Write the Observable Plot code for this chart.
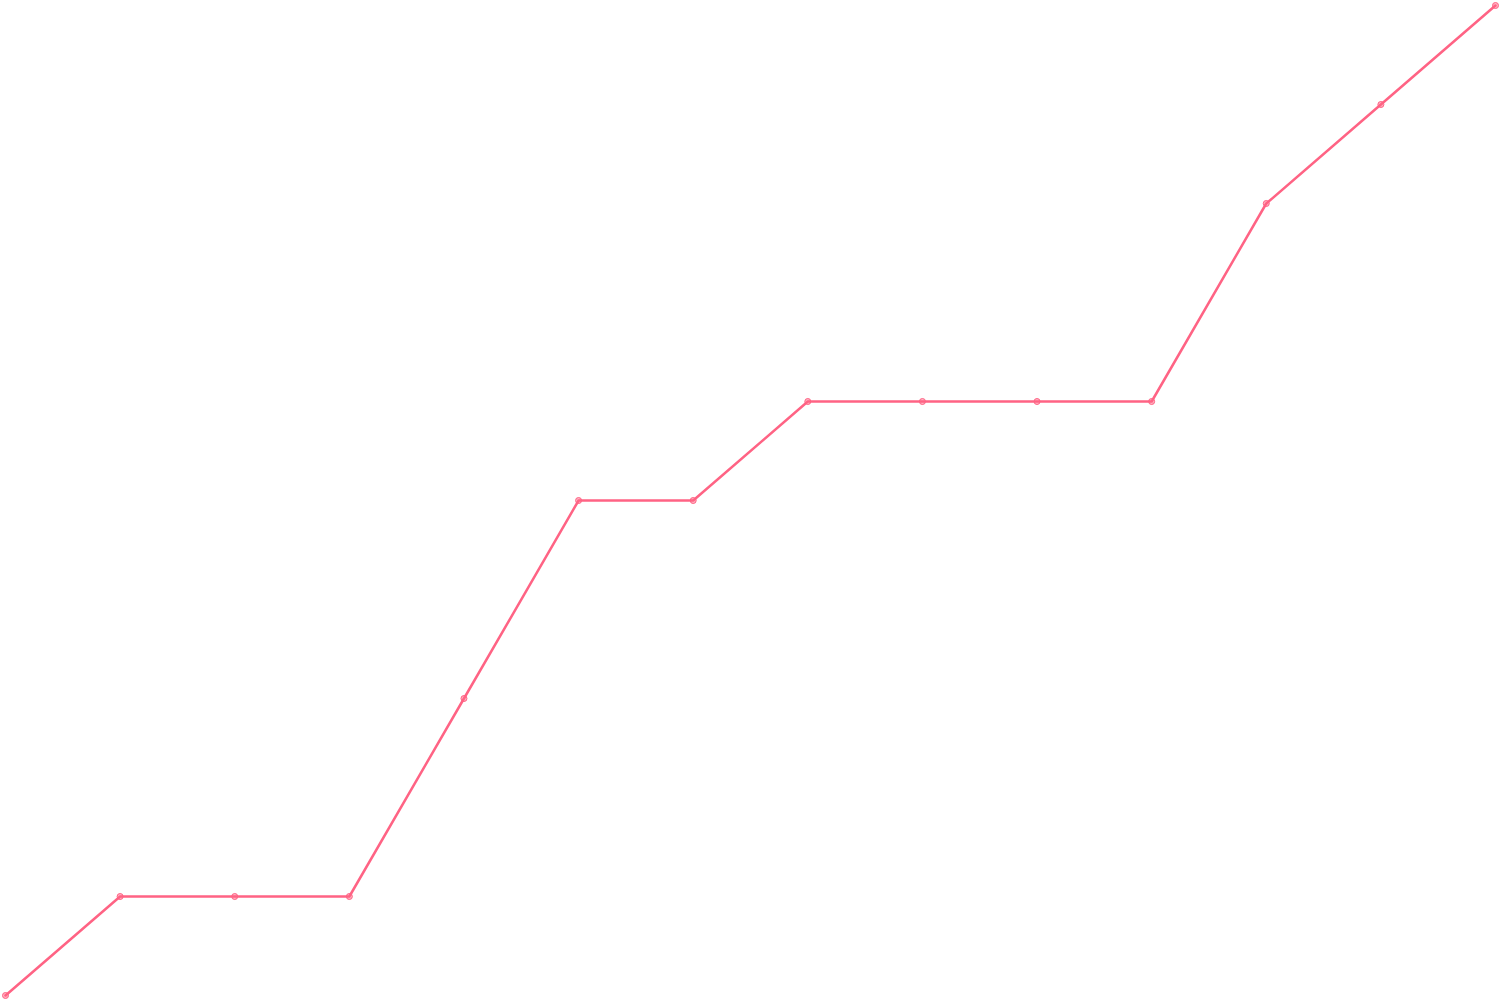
<!DOCTYPE html>
<html>
<head>
<meta charset="utf-8">
<script src="https://cdn.jsdelivr.net/npm/d3@7"></script>
<script src="https://cdn.jsdelivr.net/npm/@observablehq/plot@0.6"></script>
<style>
  html, body { margin: 0; padding: 0; background: #fff; }
  svg { display: block; }
</style>
</head>
<body>
<div id="chart"></div>
<script>
const labels = [0, 1, 2, 3, 4, 5, 6, 7, 8, 9, 10, 11, 12, 13];
const values = [0, 1, 1, 1, 3, 5, 5, 6, 6, 6, 6, 8, 9, 10];
const data = labels.map((l, i) => ({x: l, y: values[i]}));
const color = "rgb(255, 99, 132)";
const chart = Plot.plot({
  width: 1500,
  height: 1000,
  margin: 5,
  x: {domain: [0, 13], axis: null},
  y: {domain: [0, 10], axis: null},
  marks: [
    Plot.line(data, {x: "x", y: "y", stroke: color, strokeWidth: 2.5}),
    Plot.dot(data, {x: "x", y: "y", r: 3, fill: "rgba(255, 99, 132, 0.5)", stroke: color, strokeWidth: 1})
  ]
});
document.getElementById("chart").appendChild(chart);
</script>
</body>
</html>
